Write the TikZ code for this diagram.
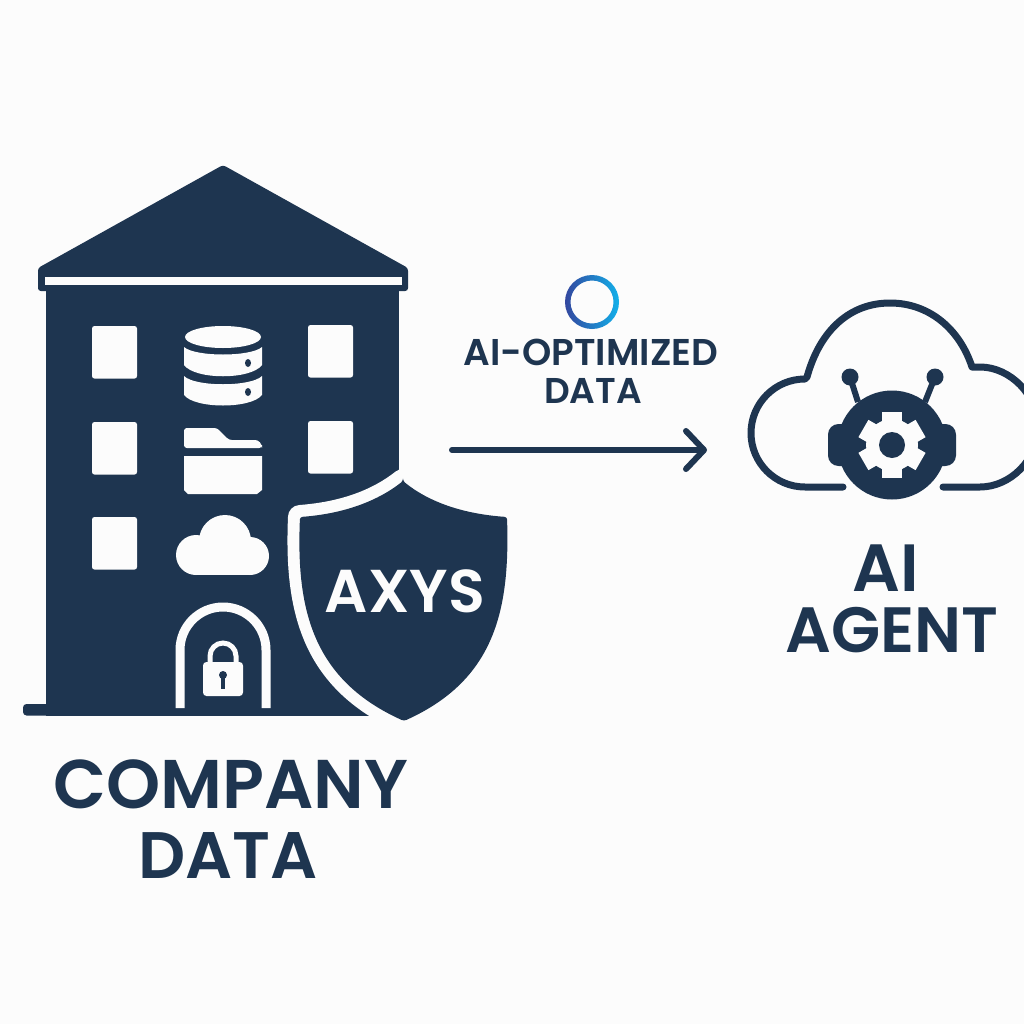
\documentclass[tikz,border=0pt]{standalone}
\usepackage{fontspec}
\setmainfont{Poppins SemiBold}
\usetikzlibrary{arrows.meta}
\definecolor{navy}{HTML}{1E3550}
\definecolor{paper}{HTML}{FCFCFC}
\definecolor{ringleft}{HTML}{33479F}
\definecolor{ringright}{HTML}{12B0EA}
\tikzset{
	px/.style={line width=#1*0.01cm},
	icon/.style={fill=paper,draw=none},
	solid navy/.style={fill=navy,draw=none},
	outline/.style={draw=navy,px=7,line cap=round,line join=round},
	label/.style={text=navy,inner sep=0pt,anchor=center}
}
\begin{document}
\begin{tikzpicture}[x=0.01cm,y=-0.01cm]
	\useasboundingbox (0,0) rectangle (1024,1024);
	\fill[paper] (0,0) rectangle (1024,1024);
	\clip (0,0) rectangle (1024,1024);
	% building
	\fill[solid navy,rounded corners=0.8] (223,165) -- (408,268) -- (408,291) -- (38,291) -- (38,268) -- cycle;
	\fill[solid navy] (46,285) rectangle (399,715.5);
	\fill[solid navy,rounded corners=1] (23,704) rectangle (60,715.5);
	\fill[icon] (45,277) rectangle (402,285);
	% windows
	\foreach \x/\y in {92/326,92/422,92/517,308/325,308/421}
		\fill[icon,rounded corners=0.7] (\x,\y) rectangle ++(45,52.5);
	% database
	\fill[icon] (223,337) ellipse (38 and 11);
	\fill[icon] (184,347) .. controls (195,357) and (251,357) .. (262,347) -- (262,365) .. controls (251,380) and (195,380) .. (184,365) -- cycle;
	\fill[icon] (184,376) .. controls (195,387) and (251,387) .. (262,376) -- (262,395) .. controls (251,409) and (195,409) .. (184,395) -- cycle;
	\fill[solid navy] (248,363) ellipse (3 and 4);
	\fill[solid navy] (248,392) ellipse (3 and 4);
	% folder
	\fill[icon,rounded corners=0.8] (184,448) -- (184,428) -- (217,428) -- (229,440) -- (258,440) -- (262,445) -- (262,448) -- cycle;
	\fill[icon] (184,456) -- (262,456) -- (262,490) -- (257,494) -- (188,494) -- (184,490) -- cycle;
	% small cloud
	\fill[icon] (196,555) circle (20);
	\fill[icon] (225,541) circle (26);
	\fill[icon] (250,556) circle (19);
	\fill[icon] (196,545) rectangle (250,575);
	% door
	\draw[draw=paper,px=9] (180,708) -- (180,650) arc (180:360:43) -- (266,708);
	\draw[draw=paper,px=5] (210,668) -- (210,656) arc (180:360:13) -- (236,668);
	\fill[icon,rounded corners=1] (203,662) rectangle (243,696);
	\fill[solid navy] (223,675) circle (4);
	\fill[solid navy] (221,675) rectangle (225,689);
	% shield
	\path[draw=paper,px=24,fill=navy,line join=round] (403,481) .. controls (430,503) and (465,514) .. (507,517)
		.. controls (510,610) and (495,680) .. (404,721) .. controls (313,680) and (296,610) .. (300,517)
		.. controls (340,514) and (375,503) .. (403,481) -- cycle;
	\fill[solid navy,rounded corners=0.7] (403,481) .. controls (430,503) and (465,514) .. (507,517)
		.. controls (510,610) and (495,680) .. (404,721) .. controls (313,680) and (296,610) .. (300,517)
		.. controls (340,514) and (375,503) .. (403,481) -- cycle;
	\node[label,text=paper,font=\fontsize{17.2}{17.2}\selectfont] (axys) at (405,591) {AXYS};
	\node[label,font=\fontsize{19.6}{19.6}\selectfont] (company) at (231,784) {COMPANY};
	\node[label,font=\fontsize{18.7}{18.7}\selectfont] (companydata) at (228,856) {DATA};
	% ring
	\shade[left color=ringleft,right color=ringright,even odd rule] (592,302) circle (27) (592,302) circle (21.5);
	\node[label,font=\fontsize{10.6}{10.6}\selectfont] (optimized) at (591,352) {AI-OPTIMIZED};
	\node[label,font=\fontsize{10.2}{10.2}\selectfont] (optdata) at (593,391) {DATA};
	% arrow
	\coordinate (from) at (452,450);
	\coordinate (to) at (707,450);
	\draw[navy,px=6,line cap=round,-{Straight Barb[length=0.18cm,width=0.38cm,round]}] (from) -- (to);
	% cloud
	\draw[outline] (843,487) -- (805,487) arc (90:270:54) -- (807,377)
		.. controls (820,330) and (850,303) .. (890,303) .. controls (930,303) and (960,330) .. (972,367)
		-- (980,367) .. controls (1010,367) and (1038,395) .. (1038,427) .. controls (1038,460) and (1010,487) .. (980,487) -- (943,487);
	% robot
	\fill[solid navy] (892,445) circle (54.5);
	\fill[solid navy,rounded corners=3] (828,424) rectangle (956,466);
	\foreach \x/\s in {850/858,935/925} {
		\fill[solid navy] (\x,377) circle (8.5);
		\draw[navy,px=6] (\x,377) -- (\s,402);
	}
	\foreach \a in {0,60,...,300}
		\fill[icon,rotate around={\a:(892,445)}] (882,445) -- (882,412) -- (902,412) -- (902,445) -- cycle;
	\fill[icon] (892,445) circle (26);
	\fill[solid navy] (892,445) circle (13);
	\node[label,font=\fontsize{19}{19}\selectfont] (ai) at (885.5,568) {AI};
	\node[label,font=\fontsize{18.2}{18.2}\selectfont] (agent) at (892,630) {AGENT};
\end{tikzpicture}
\end{document}
